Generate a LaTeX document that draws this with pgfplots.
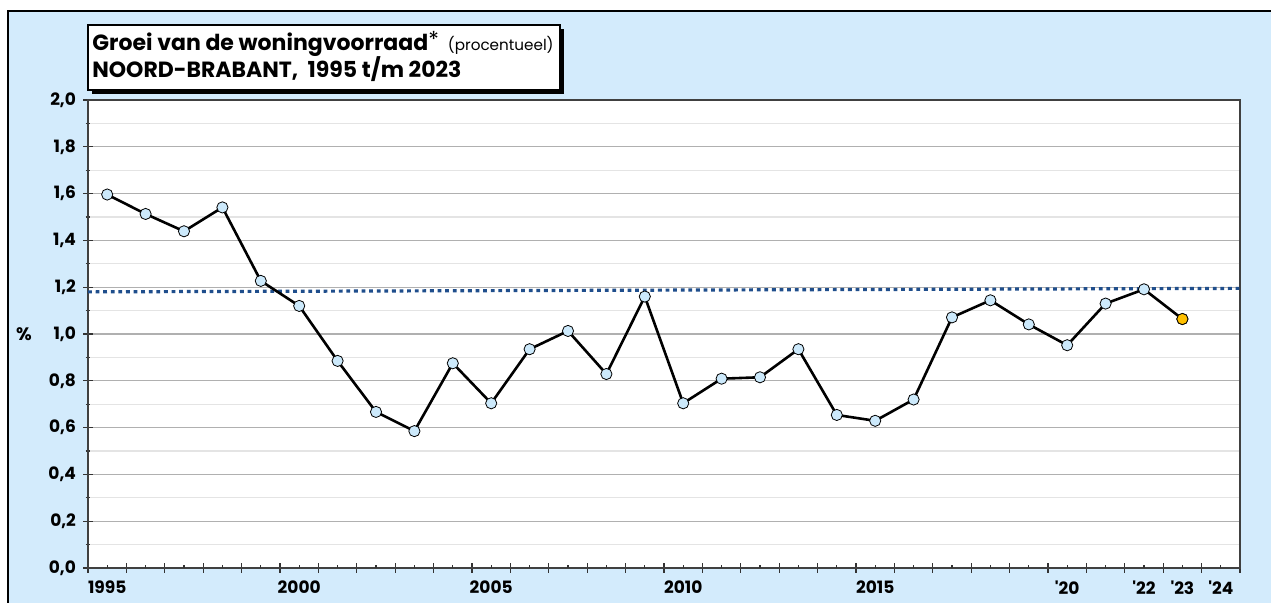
\documentclass[border=0pt]{standalone}
\usepackage{pgfplots}
\pgfplotsset{compat=1.18}
\usepackage{fontspec}
\setmainfont{Poppins}
\definecolor{panel}{HTML}{D3EBFC}
\definecolor{mk}{HTML}{CCE9FB}
\definecolor{trend}{HTML}{1F4E8C}
\definecolor{orng}{HTML}{FFC000}
\definecolor{gmaj}{HTML}{B0B0B0}
\definecolor{gmin}{HTML}{E4E4E4}
\newcommand{\q}{\textquotesingle}
\begin{document}
\begin{tikzpicture}
\fill[white] (0pt,0pt) rectangle (635.5pt,-301.5pt);
\fill[panel] (4pt,-5.5pt) rectangle (635.5pt,-301.5pt);
\draw[black, line width=0.6pt] (4pt,-301.5pt) -- (4pt,-5.5pt) -- (635.5pt,-5.5pt);
\begin{axis}[
  at={(44pt,-284pt)}, anchor=south west,
  scale only axis, width=576pt, height=234pt,
  xmin=1994.5, xmax=2024.5, ymin=0, ymax=2,
  axis background/.style={fill=white},
  axis line style={line width=0.8pt, draw=black!75},
  xtick={1994.5,1995.5,...,2024.5},
  xticklabels={},
  extra x ticks={1995,1996,...,2024},
  extra x tick labels={1995,,,,,2000,,,,,2005,,,,,2010,,,,,2015,,,,,\q20,,\q22,\q23,\q24},
  extra x tick style={major tick length=1.5pt, tick align=inside, grid=none},
  xtick pos=bottom, ytick pos=left,
  tick align=center,
  major tick length=5pt, minor tick length=2.5pt,
  tick style={line width=0.6pt, draw=black!80},
  ytick={0,0.2,...,2.01},
  minor ytick={0.1,0.3,...,1.95},
  ymajorgrids, yminorgrids,
  major grid style={gmaj, line width=0.6pt},
  minor grid style={gmin, line width=0.6pt},
  y tick label style={/pgf/number format/.cd, use comma, fixed, fixed zerofill, precision=1},
  x tick label style={yshift=-3pt},
  /pgf/number format/assume math mode=true,
  ticklabel style={font=\fontsize{8.5}{9}\selectfont\bfseries},
  ylabel={\%}, ylabel style={rotate=-90, anchor=center, font=\fontsize{9}{10}\selectfont\bfseries, at={(axis description cs:-0.0555,0.5)}},
  clip=false,
]
\addplot[trend, line width=1.6pt, dash pattern=on 1.9pt off 1.9pt] coordinates {(1994.5,1.180) (2024.5,1.195)};
\addplot[black, line width=1.3pt, mark=*, mark size=2.8pt, mark options={fill=mk, draw=black, line width=0.4pt}]
 coordinates {
 (1995,1.596) (1996,1.513) (1997,1.439) (1998,1.541) (1999,1.227) (2000,1.120)
 (2001,0.885) (2002,0.667) (2003,0.585) (2004,0.875) (2005,0.704) (2006,0.935)
 (2007,1.013) (2008,0.829) (2009,1.160) (2010,0.704) (2011,0.809) (2012,0.815)
 (2013,0.935) (2014,0.654) (2015,0.629) (2016,0.720) (2017,1.071) (2018,1.144)
 (2019,1.041) (2020,0.952) (2021,1.130) (2022,1.191) (2023,1.064)};
\addplot[only marks, mark=*, mark size=2.8pt, mark options={fill=orng, draw=black, line width=0.4pt}]
 coordinates {(2023,1.064)};
\end{axis}
\fill[black] (46pt,-14.5pt) rectangle (282pt,-47pt);
\filldraw[fill=white, draw=black, line width=0.6pt] (44pt,-12.5pt) rectangle (280pt,-45pt);
\node[anchor=base west, inner sep=0pt] at (46pt,-25.5pt) {\fontsize{11}{12}\selectfont\bfseries Groei van de woningvoorraad\raisebox{1.5pt}{\mdseries*}\hspace{4.5pt}{\mdseries\fontsize{7.6}{9}\selectfont(procentueel)}};
\node[anchor=base west, inner sep=0pt] at (46pt,-39pt) {\fontsize{11}{12}\selectfont\bfseries NOORD-BRABANT,\ \ 1995 t/m 2023};
\pgfresetboundingbox
\useasboundingbox (0pt,0pt) rectangle (635.5pt,-301.5pt);
\end{tikzpicture}
\end{document}
